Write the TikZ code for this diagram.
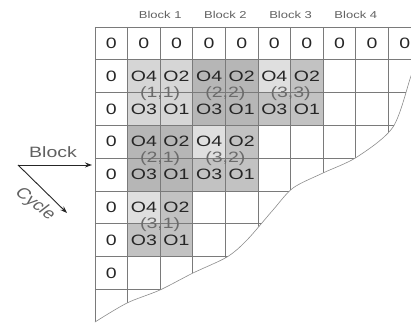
\documentclass[tikz,border=0pt]{standalone}
\usepackage{fontspec}
\setmainfont{Liberation Sans}
\usetikzlibrary{arrows.meta}

\definecolor{lightb}{HTML}{D6D6D6}
\definecolor{darkb}{HTML}{B6B6B6}
\definecolor{midb}{HTML}{C2C2C2}
\definecolor{paleb}{HTML}{DFDFDF}

\begin{document}
\begin{tikzpicture}[
  x=32.6pt, y=-32.8pt,
  cell/.style={inner sep=0pt, font=\fontsize{15}{15}\selectfont, text=black!85, xscale=1.3, transform shape},
  tag/.style={inner sep=0pt, font=\fontsize{15}{15}\selectfont, text=black!58, xscale=1.3, transform shape},
  head/.style={inner sep=0pt, font=\fontsize{10}{10}\selectfont, text=black!62, xscale=1.3, transform shape},
  axis/.style={inner sep=0pt, font=\fontsize{15}{15}\selectfont, text=black!62, xscale=1.3, transform shape},
  gridline/.style={draw=black!52, line width=0.8pt},
  edge/.style={draw=black!45, line width=0.6pt},
  dir/.style={draw=black!85, line width=0.9pt, -{Stealth[length=7pt, width=5pt]}},
]
\useasboundingbox (-2.9141,-0.8232) rectangle (9.6933,9.0549);

\foreach \c/\r/\shade in {1/1/lightb, 3/1/darkb, 5/1/midb, 1/3/darkb, 3/3/midb, 1/5/midb}
  \fill[\shade] (\c,\r) rectangle ++(2,2);
\foreach \c/\r in {5/1, 3/3, 1/5}
  \fill[paleb] (\c,\r) rectangle ++(1,1);

\begin{scope}
\clip (-0.1,-0.1) -- (10.5,-0.1) -- (10.5,0.3) -- plot[smooth] coordinates {(10.0,0.65) (9.693,1.494) (9.141,3.049) (8.037,3.963) (6.994,4.451) (6.074,4.909) (5.460,5.579) (4.663,6.494) (4.049,7.012) (3.006,7.500) (1.994,8.018) (0.982,8.415) (0,8.994)} -- (-0.1,9.05) -- cycle;
\foreach \c in {0,...,10}
  \draw[gridline] (\c,0) -- (\c,9);
\foreach \r in {0,...,9}
  \draw[gridline] (0,\r) -- (10,\r);
\end{scope}
\draw[edge] plot[smooth] coordinates {(10.0,0.65) (9.693,1.494) (9.141,3.049) (8.037,3.963) (6.994,4.451) (6.074,4.909) (5.460,5.579) (4.663,6.494) (4.049,7.012) (3.006,7.500) (1.994,8.018) (0.982,8.415) (0,8.994)};

\foreach \k in {1,...,4}
  \node[head] (blk\k) at (2*\k,-0.38) {Block \k};

\foreach \c in {0,...,9}
  \node[cell] (top\c) at (\c+0.5,0.5) {0};
\foreach \r in {1,...,7}
  \node[cell] (left\r) at (0.5,\r+0.5) {0};

\foreach \c/\r/\i/\j in {1/1/1/1, 3/1/2/2, 5/1/3/3, 1/3/2/1, 3/3/3/2, 1/5/3/1} {
  \node[cell] (o4-\i\j) at (\c+0.5,\r+0.5) {O4};
  \node[cell] (o2-\i\j) at (\c+1.5,\r+0.5) {O2};
  \node[cell] (o3-\i\j) at (\c+0.5,\r+1.5) {O3};
  \node[cell] (o1-\i\j) at (\c+1.5,\r+1.5) {O1};
  \node[tag] (t-\i\j) at (\c+1,\r+1.02) {(\i,\j)};
}

\coordinate (orig) at (-2.362,4.207);
\coordinate (bend) at (-0.092,4.207);
\coordinate (cend) at (-0.859,5.671);
\draw[dir] (orig) -- (bend);
\draw[dir] (orig) -- (cend);
\node[axis] (blocklab) at (-1.288,3.811) {Block};
\node[axis, rotate=-45] (cyclelab) at (-1.84,5.40) {Cycle};
\end{tikzpicture}
\end{document}
